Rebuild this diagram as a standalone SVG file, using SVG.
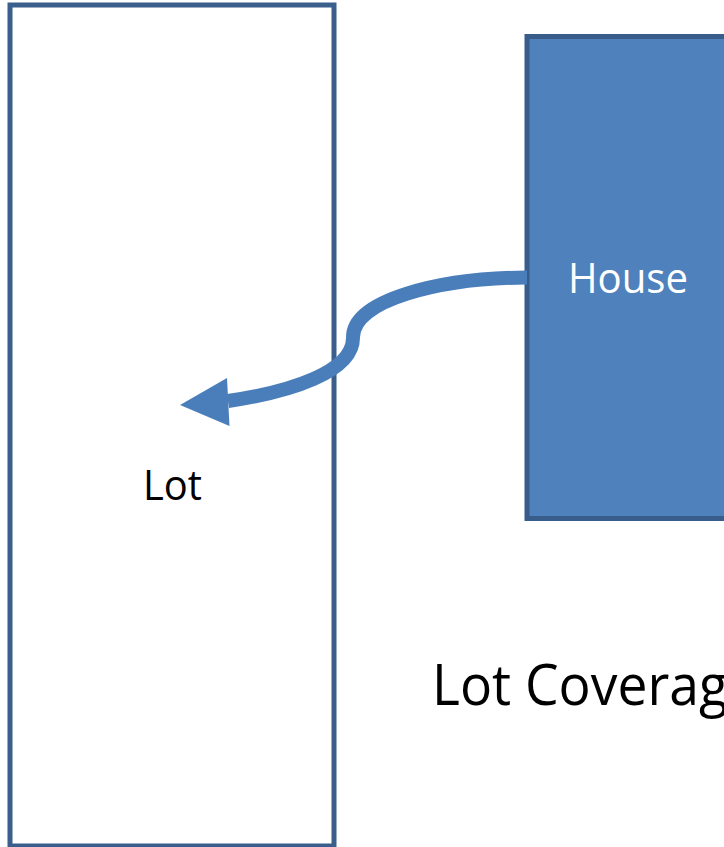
<svg xmlns="http://www.w3.org/2000/svg" width="724" height="847" viewBox="0 0 724 847">
  <style>
    .lbl { font-family: "Open Sans", "Noto Sans", "Liberation Sans", sans-serif; }
  </style>
  <rect x="0" y="0" width="724" height="847" fill="#ffffff"/>
  <g id="lot">
    <rect x="10" y="5" width="324" height="841" fill="#ffffff" stroke="#3b5f8c" stroke-width="5"/>
    <text class="lbl" x="143" y="500" font-size="42" fill="#000000" textLength="59" lengthAdjust="spacingAndGlyphs">Lot</text>
  </g>
  <g id="house">
    <rect x="527" y="36.5" width="230" height="482" fill="#4f81bd" stroke="#385d8a" stroke-width="5"/>
    <text class="lbl" x="568" y="293" font-size="42" fill="#ffffff" textLength="120" lengthAdjust="spacingAndGlyphs">House</text>
  </g>
  <g id="connectors">
    <path d="M527,277.5 C440,278 352,300 353,338 C353,372 290,392 228,401" fill="none" stroke="#4a7ebb" stroke-width="14"/>
    <polygon points="180,405 227,378 229.5,426" fill="#4a7ebb"/>
  </g>
  <g id="title">
    <text class="lbl" x="432" y="705" font-size="56" fill="#000000" textLength="296" lengthAdjust="spacingAndGlyphs">Lot Coverag</text>
  </g>
</svg>
